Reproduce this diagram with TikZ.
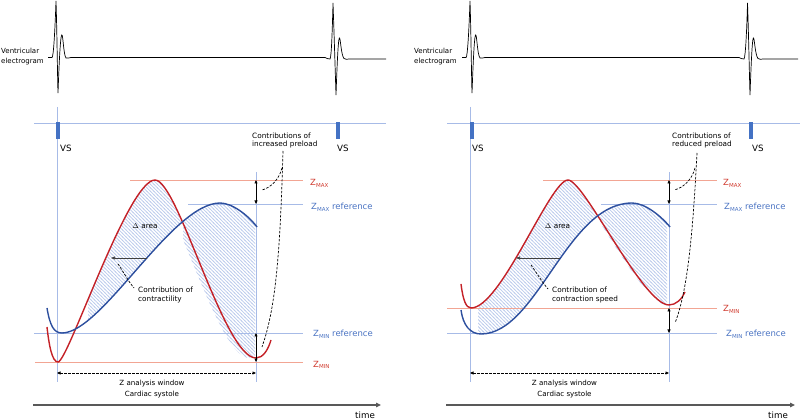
\documentclass[tikz,border=0pt]{standalone}
\usepackage{fontspec}
\setmainfont{DejaVu Sans}
\usetikzlibrary{arrows.meta,patterns}
\definecolor{cred}{HTML}{C42127}
\definecolor{cblue}{HTML}{2D4F9E}
\definecolor{lred}{HTML}{F2A593}
\definecolor{lblue}{HTML}{A7BBE7}
\definecolor{hatchc}{HTML}{BCCBEC}
\definecolor{lblred}{HTML}{D03A2E}
\definecolor{lblblue}{HTML}{4A73C2}
\definecolor{vsblue}{HTML}{4472C4}
\pgfdeclarepatternformonly{hatchlines}{\pgfqpoint{-1pt}{-1pt}}{\pgfqpoint{4.5pt}{4.5pt}}{\pgfqpoint{3.5pt}{3.5pt}}{%
  \pgfsetlinewidth{0.7pt}\pgfpathmoveto{\pgfqpoint{-0.5pt}{4pt}}\pgfpathlineto{\pgfqpoint{4pt}{-0.5pt}}\pgfusepath{stroke}}
\newcommand\zsb[1]{\raisebox{-1.6pt}{\fontsize{5.5}{6}\selectfont #1}}
\def\redL{(47,327) .. controls (49,345) and (52,362) .. (58,362) .. controls (68,362) and (128,180) .. (155,180) .. controls (178,180) and (224,358) .. (256,358) .. controls (263,358) and (268,350) .. (271,340)}
\def\blueL{(47,308) .. controls (50,326) and (54,333) .. (62,333) .. controls (102,333) and (172,203) .. (220,203) .. controls (232,203) and (248,215) .. (257,227)}
\def\redR{(461,284) .. controls (463,300) and (466,308) .. (471,308) .. controls (501,308) and (550,180) .. (568,180) .. controls (584,180) and (643,305) .. (669,305) .. controls (676,305) and (682,299) .. (685,292)}
\def\blueR{(461,310) .. controls (463,325) and (470,334) .. (481,334) .. controls (537,334) and (567,203) .. (632,203) .. controls (645,203) and (661,216) .. (670,227)}
\tikzset{
  refline/.style={draw=lblue, line width=0.8pt},
  redline/.style={draw=lred, line width=0.9pt},
  redcurve/.style={draw=cred, line width=1.4pt},
  bluecurve/.style={draw=cblue, line width=1.4pt},
  ecg/.style={draw=black, line width=0.7pt},
  smalltxt/.style={font=\fontsize{7.3}{8.6}\selectfont, inner sep=0pt, align=left},
  wintxt/.style={font=\fontsize{7.1}{11}\selectfont, inner sep=0pt, align=center},
  zlab/.style={font=\fontsize{8.5}{10}\selectfont, inner sep=0pt, anchor=base west},
  bigtxt/.style={font=\fontsize{8.7}{10}\selectfont, inner sep=0pt, anchor=base west},
  dblarrow/.style={{Triangle[length=3.5pt,width=3pt]}-{Triangle[length=3.5pt,width=3pt]}, line width=0.6pt, draw=black},
  winarrow/.style={{Triangle[length=3.5pt,width=3pt]}-{Triangle[length=3.5pt,width=3pt]}, line width=0.6pt, draw=black, dash pattern=on 2.5pt off 1.5pt},
  dashcurve/.style={draw=black, line width=0.7pt, dash pattern=on 2.5pt off 1.5pt},
  contrib/.style={-{Triangle[length=4pt,width=3pt]}, line width=0.6pt, draw=black!75},
  hatch/.style={pattern=hatchlines, pattern color=hatchc},
  marker/.style={fill=vsblue, draw=none},
  timeax/.style={-{Triangle[length=5pt,width=4.5pt]}, line width=1.2pt, draw=black!65},
}
\begin{document}
\begin{tikzpicture}[x=1pt,y=-1pt]
\useasboundingbox (0,0) rectangle (800,419);

% ---------------- hatched areas ----------------
\begin{scope}
  \clip (88,0) rectangle (190,419);
  \clip \redL -- (271,430) -- (47,430) -- cycle;
  \fill[hatch] \blueL -- (257,100) -- (47,100) -- cycle;
\end{scope}
\begin{scope}
  \clip (183,0) rectangle (255,419);
  \clip \blueL -- (257,430) -- (47,430) -- cycle;
  \begin{scope}[xshift=-7pt]
    \fill[hatch] \redL -- (271,100) -- (47,100) -- cycle;
  \end{scope}
\end{scope}
\begin{scope}
  \clip (478,0) rectangle (610,419);
  \clip \redR -- (685,430) -- (461,430) -- cycle;
  \fill[hatch] \blueR -- (670,100) -- (461,100) -- cycle;
\end{scope}
\begin{scope}
  \clip (600,0) rectangle (667,419);
  \clip \blueR -- (670,430) -- (461,430) -- cycle;
  \begin{scope}[xshift=-2pt]
    \fill[hatch] \redR -- (685,100) -- (461,100) -- cycle;
  \end{scope}
\end{scope}

% ---------------- LEFT PANEL ----------------
\node[font=\fontsize{7}{10.7}\selectfont, inner sep=0pt, align=left, anchor=west] (ecgL) at (1,56.5) {Ventricular\\electrogram};
\draw[ecg] (48,57.5) -- (52,57.5) .. controls (53.5,57.5) and (55,30) .. (56,1) .. controls (57,30) and (57.5,80) .. (58,93) .. controls (58.7,75) and (60,38) .. (61.7,35) .. controls (63,33) and (63.5,55) .. (66,58) .. controls (67,59) and (69,57.5) .. (71,57.5) -- (325,57.5) .. controls (327,57.5) and (328,60) .. (330,59) .. controls (331.5,57) and (332.3,30) .. (333,3) .. controls (334,30) and (335.5,80) .. (336,95) .. controls (336.7,75) and (338,40) .. (339.3,38) .. controls (340.5,37) and (341,55) .. (344,58.5) .. controls (345.5,60) and (347,59) .. (349,59) -- (386,59);

\draw[refline] (34,123) -- (386,123);
\draw[refline] (57,107) -- (57,382);
\draw[refline] (256,172) -- (256,382);
\fill[marker] (56,122) rectangle (60,139);
\fill[marker] (336,122) rectangle (340,139);
\node[bigtxt] (vs1L) at (60,152) {VS};
\node[bigtxt] (vs2L) at (337,152) {VS};

\draw[redline] (130,180) -- (303,180);
\draw[refline] (188,204) -- (303,204);
\draw[refline] (34,333) -- (303,333);
\draw[redline] (35,362) -- (303,362);

\draw[redcurve] \redL;
\draw[bluecurve] \blueL;

\node[zlab, text=lblred] (zmaxL) at (310,186) {Z\zsb{MAX}};
\node[zlab, text=lblblue] (zmaxrL) at (311,209.5) {Z\zsb{MAX} reference};
\node[zlab, text=lblblue] (zminrL) at (313,337) {Z\zsb{MIN} reference};
\node[zlab, text=lblred] (zminL) at (313,367) {Z\zsb{MIN}};

\coordinate (aL1) at (256,180); \coordinate (aL2) at (256,204);
\coordinate (aL3) at (256,333); \coordinate (aL4) at (256,362);
\draw[dblarrow] (aL1) -- (aL2);
\draw[dblarrow] (aL3) -- (aL4);

\node[smalltxt, anchor=west] (preL) at (252,140.5) {Contributions of\\increased preload};
\coordinate (pLa) at (283,151); \coordinate (pLb) at (262,347);
\coordinate (pLd) at (282,168); \coordinate (pLc) at (262,190);
\draw[dashcurve] (pLa) .. controls (280,260) and (275,310) .. (pLb);
\draw[dashcurve] (pLd) .. controls (279,180) and (270,188) .. (pLc);

\node[smalltxt] (dareaL) at (145,226.5) {$\Delta$ area};
\coordinate (cLs) at (147,258); \coordinate (cLe) at (111,258);
\draw[contrib] (cLs) -- (cLe);
\node[smalltxt, anchor=west] (conL) at (138,295) {Contribution of\\contractility};
\coordinate (dLa) at (118,264); \coordinate (dLb) at (134,288);
\draw[dashcurve] (dLa) .. controls (123,271) and (128,281) .. (dLb);

\coordinate (wL1) at (57,373); \coordinate (wL2) at (256,373);
\draw[winarrow] (wL1) -- (wL2);
\node[wintxt] (winL) at (152,389.5) {Z analysis window\\Cardiac systole};

\coordinate (tL1) at (33,405); \coordinate (tL2) at (381,405);
\draw[timeax] (tL1) -- (tL2);
\node[bigtxt] (timeL) at (355,418) {time};

% ---------------- RIGHT PANEL ----------------
\node[font=\fontsize{7}{10.7}\selectfont, inner sep=0pt, align=left, anchor=west] (ecgR) at (414,56.5) {Ventricular\\electrogram};
\draw[ecg] (462,57.5) -- (466,57.5) .. controls (467.5,57.5) and (469,30) .. (470,1) .. controls (471,30) and (471.5,80) .. (472,93) .. controls (472.7,75) and (474,38) .. (475.5,35) .. controls (476.8,33) and (477.3,55) .. (480,58) .. controls (481,59) and (483,57.5) .. (485,57.5) -- (739,57.5) .. controls (741,57.5) and (742,60) .. (744,59) .. controls (745.5,57) and (746.8,30) .. (747.5,3) .. controls (748.5,30) and (749.5,80) .. (750,95) .. controls (750.7,75) and (752,40) .. (753.3,38) .. controls (754.5,37) and (755,55) .. (758,58.5) .. controls (759.5,60) and (761,59) .. (763,59) -- (798,59);

\draw[refline] (447,123) -- (800,123);
\draw[refline] (470,107) -- (470,382);
\draw[refline] (669,172) -- (669,382);
\fill[marker] (469.5,122) rectangle (473.5,139);
\fill[marker] (748.5,122) rectangle (752.5,139);
\node[bigtxt] (vs1R) at (472,152) {VS};
\node[bigtxt] (vs2R) at (752,152) {VS};

\draw[redline] (543,180) -- (717,180);
\draw[refline] (601,204) -- (717,204);
\draw[redline] (447,308) -- (717,308);
\draw[refline] (447,333) -- (717,333);

\draw[redcurve] \redR;
\draw[bluecurve] \blueR;

\node[zlab, text=lblred] (zmaxR) at (723,186) {Z\zsb{MAX}};
\node[zlab, text=lblblue] (zmaxrR) at (724,209.5) {Z\zsb{MAX} reference};
\node[zlab, text=lblred] (zminR) at (723,312) {Z\zsb{MIN}};
\node[zlab, text=lblblue] (zminrR) at (726,337) {Z\zsb{MIN} reference};

\coordinate (aR1) at (669,180); \coordinate (aR2) at (669,204);
\coordinate (aR3) at (669,308); \coordinate (aR4) at (669,333);
\draw[dblarrow] (aR1) -- (aR2);
\draw[dblarrow] (aR3) -- (aR4);

\node[smalltxt, anchor=west] (preR) at (672,140.5) {Contributions of\\reduced preload};
\coordinate (pRa) at (697,153); \coordinate (pRb) at (675,323);
\coordinate (pRd) at (695,168); \coordinate (pRc) at (674,190);
\draw[dashcurve] (pRa) .. controls (693,230) and (688,290) .. (pRb);
\draw[dashcurve] (pRd) .. controls (692,180) and (683,188) .. (pRc);

\node[smalltxt] (dareaR) at (557.5,226.5) {$\Delta$ area};
\coordinate (cRs) at (560,258); \coordinate (cRe) at (516,258);
\draw[contrib] (cRs) -- (cRe);
\node[smalltxt, anchor=west] (conR) at (552,295) {Contribution of\\contraction speed};
\coordinate (dRa) at (531,265); \coordinate (dRb) at (548,289);
\draw[dashcurve] (dRa) .. controls (536,272) and (542,282) .. (dRb);

\coordinate (wR1) at (470,373); \coordinate (wR2) at (669,373);
\draw[winarrow] (wR1) -- (wR2);
\node[wintxt] (winR) at (564.5,389.5) {Z analysis window\\Cardiac systole};

\coordinate (tR1) at (446,405); \coordinate (tR2) at (795,405);
\draw[timeax] (tR1) -- (tR2);
\node[bigtxt] (timeR) at (768,418) {time};
\end{tikzpicture}
\end{document}
